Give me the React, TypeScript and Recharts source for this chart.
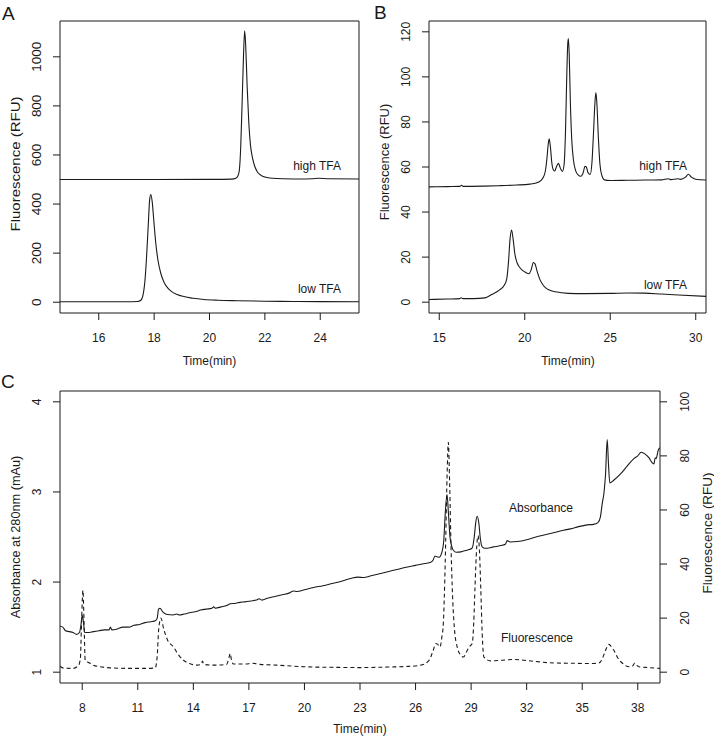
import React from "react";
import { LineChart, Line, XAxis, YAxis, ReferenceArea } from "recharts";

// ---- data (time in min, signal) ----

// Panel A: fluorescence (RFU)
const highTfaA: [number, number][] = [
  [14.6, 500], [16, 500], [18, 500], [20, 500.5], [20.8, 501.5], [20.95, 505], [21.03, 515],
  [21.08, 540], [21.13, 640], [21.18, 820], [21.23, 1010], [21.27, 1106], [21.31, 1040],
  [21.36, 880], [21.42, 730], [21.48, 640], [21.55, 590], [21.63, 555], [21.72, 533],
  [21.85, 518], [22.0, 510], [22.3, 505], [22.7, 503], [23.3, 502], [23.7, 503],
  [23.95, 505], [24.3, 503], [25.4, 502],
];
const lowTfaA: [number, number][] = [
  [14.6, 2], [16, 2], [17.0, 2], [17.4, 3], [17.52, 8], [17.6, 30], [17.67, 90], [17.73, 190],
  [17.79, 320], [17.84, 420], [17.88, 439], [17.93, 410], [17.99, 330], [18.06, 240],
  [18.14, 170], [18.24, 118], [18.37, 78], [18.52, 54], [18.7, 38], [19.0, 25], [19.4, 16],
  [19.8, 11], [20.3, 8], [21, 6], [22, 4], [23, 3], [24, 2.5], [25.4, 2],
];

// Panel B: fluorescence (RFU)
const highTfaB: [number, number][] = [
  [14.4, 51.2], [15.5, 51.3], [16.2, 51.4], [16.3, 51.9], [16.4, 51.4], [17.5, 51.5],
  [18.5, 51.7], [19.5, 52], [20.3, 52.4], [20.8, 53.2], [21.05, 55], [21.2, 58], [21.3, 64],
  [21.37, 70], [21.43, 72.5], [21.5, 69], [21.58, 62], [21.67, 58.8], [21.75, 58.2],
  [21.85, 60], [21.97, 61.6], [22.08, 59.5], [22.2, 58], [22.3, 61], [22.38, 75], [22.45, 98],
  [22.51, 114], [22.55, 117], [22.6, 110], [22.67, 88], [22.75, 72], [22.85, 63],
  [22.97, 58.5], [23.12, 56.5], [23.28, 55.9], [23.42, 57.5], [23.52, 60.3], [23.6, 60],
  [23.7, 57.5], [23.83, 56.7], [23.93, 62], [24.02, 75], [24.1, 88], [24.16, 93],
  [24.22, 88], [24.3, 74], [24.4, 61], [24.52, 56], [24.65, 54.3], [25, 54], [26, 54.1],
  [27, 54.2], [28, 54.3], [28.4, 54.8], [28.55, 54.4], [28.95, 54.8], [29.1, 54.5],
  [29.4, 55.5], [29.57, 56.8], [29.75, 55.5], [30, 54.6], [30.6, 54.2],
];
const lowTfaB: [number, number][] = [
  [14.4, 1.2], [15.5, 1.4], [16.2, 1.6], [16.28, 2.0], [16.38, 1.6], [17.0, 1.6],
  [17.67, 1.9], [18.06, 3.4], [18.55, 5.6], [18.8, 7.5], [18.95, 10.5], [19.05, 18],
  [19.14, 28], [19.23, 32], [19.32, 28], [19.42, 21.5], [19.55, 17.5], [19.7, 15.5],
  [19.85, 14.2], [20.05, 13.2], [20.24, 12.6], [20.38, 14.5], [20.5, 17.6], [20.6, 17],
  [20.72, 13.8], [20.89, 10], [21.1, 7.3], [21.37, 5.6], [21.8, 4.6], [22.54, 3.9],
  [23.5, 3.8], [25, 3.9], [26.05, 4.1], [27, 4.0], [28, 3.6], [29, 3.2], [30.6, 2.6],
];

// Panel C: absorbance at 280nm (mAu), left axis
const absorbanceC: [number, number][] = [
  [6.8, 1.51], [6.95, 1.5], [7.1, 1.46], [7.3, 1.45], [7.5, 1.44], [7.7, 1.42], [7.85, 1.44],
  [7.93, 1.52], [8.0, 1.63], [8.07, 1.55], [8.13, 1.44], [8.3, 1.44], [8.6, 1.45],
  [8.9, 1.46], [9.2, 1.47], [9.45, 1.47], [9.52, 1.5], [9.6, 1.47], [9.9, 1.48], [10.2, 1.5],
  [10.5, 1.5], [10.8, 1.52], [11.1, 1.53], [11.4, 1.55], [11.7, 1.56], [11.95, 1.57],
  [12.05, 1.6], [12.12, 1.7], [12.2, 1.71], [12.35, 1.67], [12.6, 1.64], [12.9, 1.635],
  [13.1, 1.645], [13.25, 1.635], [13.5, 1.645], [13.8, 1.66], [14.1, 1.67], [14.4, 1.69],
  [14.7, 1.7], [15.0, 1.71], [15.1, 1.725], [15.2, 1.71], [15.5, 1.725], [15.8, 1.74],
  [16.0, 1.76], [16.3, 1.765], [16.5, 1.775], [16.8, 1.78], [17.1, 1.79], [17.4, 1.8],
  [17.55, 1.815], [17.7, 1.8], [18.0, 1.82], [18.4, 1.84], [18.8, 1.86], [19.2, 1.88],
  [19.4, 1.9], [19.6, 1.895], [20.0, 1.915], [20.5, 1.94], [21.0, 1.96], [21.5, 1.985],
  [22.0, 2.01], [22.5, 2.04], [22.9, 2.055], [23.2, 2.05], [23.6, 2.07], [24.0, 2.09],
  [24.5, 2.115], [25.0, 2.14], [25.5, 2.165], [26.0, 2.185], [26.5, 2.205], [26.82, 2.22],
  [26.95, 2.245], [27.05, 2.29], [27.15, 2.28], [27.27, 2.276], [27.42, 2.33], [27.52, 2.45],
  [27.6, 2.75], [27.7, 2.97], [27.78, 2.75], [27.86, 2.5], [27.95, 2.4], [28.05, 2.35],
  [28.2, 2.33], [28.45, 2.335], [28.7, 2.35], [28.9, 2.36], [29.06, 2.38], [29.17, 2.5],
  [29.25, 2.66], [29.33, 2.73], [29.42, 2.65], [29.5, 2.48], [29.6, 2.39], [29.75, 2.375],
  [29.87, 2.376], [30.2, 2.39], [30.6, 2.405], [30.85, 2.42], [30.95, 2.46], [31.1, 2.445],
  [31.5, 2.45], [32.0, 2.47], [32.5, 2.5], [33.0, 2.525], [33.5, 2.55], [34.0, 2.575],
  [34.37, 2.59], [34.8, 2.615], [35.27, 2.635], [35.6, 2.64], [35.85, 2.66], [35.98, 2.72],
  [36.08, 2.87], [36.18, 3.0], [36.26, 3.2], [36.35, 3.58], [36.42, 3.3], [36.49, 3.1],
  [36.7, 3.13], [37.07, 3.2], [37.4, 3.28], [37.79, 3.37], [38.0, 3.4], [38.18, 3.44],
  [38.4, 3.42], [38.6, 3.38], [38.75, 3.33], [38.87, 3.31], [38.94, 3.38], [38.99, 3.37],
  [39.1, 3.46], [39.2, 3.49],
];

// Panel C: fluorescence (RFU), right axis
const fluorescenceC: [number, number][] = [
  [6.8, 2.2], [7.0, 1.5], [7.5, 1.4], [7.8, 2.5], [7.9, 5], [7.97, 20], [8.04, 30.3],
  [8.1, 18], [8.16, 4.4], [8.34, 3.6], [8.6, 2.6], [8.97, 2.0], [9.5, 1.6], [10.5, 1.4],
  [11.5, 1.4], [11.94, 1.6], [12.05, 6], [12.13, 16], [12.25, 20], [12.4, 16], [12.6, 12],
  [12.93, 9.3], [13.2, 6.4], [13.47, 4.4], [13.8, 3.2], [14.19, 2.6], [14.42, 2.9],
  [14.49, 4.1], [14.56, 2.9], [15.09, 2.6], [15.8, 2.9], [15.93, 5.5], [15.99, 6.9],
  [16.06, 4.5], [16.17, 3.0], [16.8, 3.0], [17.2, 3.3], [17.6, 2.9], [18.5, 2.6], [20, 2.0],
  [21.5, 1.8], [23, 1.7], [24.5, 1.9], [25.5, 2.1], [26.28, 2.6], [26.73, 4.4], [26.95, 8],
  [27.09, 10.6], [27.2, 10.3], [27.32, 9.3], [27.42, 13], [27.5, 18], [27.6, 40], [27.7, 72],
  [27.77, 85], [27.84, 70], [27.92, 45], [27.98, 31.5], [28.1, 16], [28.25, 9.3],
  [28.4, 6.6], [28.58, 5.6], [28.75, 7.5], [28.89, 9.3], [29.06, 10.6], [29.14, 18],
  [29.21, 31.5], [29.3, 46], [29.37, 50.5], [29.45, 45], [29.52, 31.5], [29.6, 14],
  [29.69, 5.6], [30.05, 4.2], [30.6, 4.4], [31.31, 4.7], [32.4, 4.0], [33.47, 3.4],
  [34.5, 3.3], [35.5, 3.2], [35.9, 3.4], [36.05, 4.5], [36.21, 7.2], [36.44, 10.3],
  [36.6, 9.2], [36.71, 8.1], [36.9, 5.5], [37.16, 3.4], [37.52, 2.0], [37.72, 2.3],
  [37.84, 3.4], [37.95, 2.5], [38.06, 2.0], [38.6, 1.7], [39.2, 1.4],
];

// axis ticks
const ticksAx = [16, 18, 20, 22, 24];
const ticksAy = [0, 200, 400, 600, 800, 1000];
const ticksBx = [15, 20, 25, 30];
const ticksBy = [0, 20, 40, 60, 80, 100, 120];
const ticksCx = [8, 11, 14, 17, 20, 23, 26, 29, 32, 35, 38];
const ticksCabs = [1, 2, 3, 4];
const ticksCfl = [0, 20, 40, 60, 80, 100];

const toPts = (arr: [number, number][]) => arr.map(([t, v]) => ({ t, v }));

const INK = "#1a1a1a";
const FONT = "'Liberation Sans', Arial, Helvetica, sans-serif";
const FS = 12;

// rotated text, optionally stretched along its own direction
const rot = (x: number, y: number, k: number) =>
  `rotate(-90 ${x} ${y}) translate(${x} ${y}) scale(${k} 1) translate(${-x} ${-y})`;

// R-style tick labels: parallel to the axis
const leftTick = (k: number) => (props: any) => {
  const { x, y, payload } = props;
  const bx = x - 11.7;
  return (
    <text x={bx} y={y} transform={rot(bx, y, k)} textAnchor="middle" fontSize={FS} fill={INK}>
      {payload.value}
    </text>
  );
};
const rightTick = (props: any) => {
  const { x, y, payload } = props;
  const bx = x + 22;
  return (
    <text x={bx} y={y} transform={rot(bx, y, 1)} textAnchor="middle" fontSize={FS} fill={INK}>
      {payload.value}
    </text>
  );
};
const bottomTick = (props: any) => {
  const { x, y, payload } = props;
  return (
    <text x={x} y={y + 21.5} textAnchor="middle" fontSize={FS} fill={INK}>
      {payload.value}
    </text>
  );
};

const axisCommon = {
  type: "number" as const,
  allowDataOverflow: true,
  axisLine: false,
  tickSize: 7,
  tickMargin: 0,
  tickLine: { stroke: INK },
  interval: 0 as const,
};

const lineCommon = {
  dataKey: "v",
  type: "monotone" as const,
  stroke: INK,
  strokeWidth: 1.1,
  dot: false,
  isAnimationActive: false,
};

function PanelA() {
  return (
    <LineChart width={362} height={370} margin={{ top: 21, right: 3, left: 0, bottom: 0 }}>
      <XAxis {...axisCommon} dataKey="t" domain={[14.6, 25.4]} ticks={ticksAx} height={57} tick={bottomTick} />
      <YAxis {...axisCommon} domain={[-44, 1146]} ticks={ticksAy} width={60} tick={leftTick(1.12)} />
      <ReferenceArea x1={14.6} x2={25.4} y1={-44} y2={1146} fill="none" stroke={INK} strokeWidth={1} />
      <Line {...lineCommon} data={toPts(highTfaA)} />
      <Line {...lineCommon} data={toPts(lowTfaA)} />
    </LineChart>
  );
}

function PanelB() {
  return (
    <LineChart width={360} height={370} margin={{ top: 21, right: 8, left: 0, bottom: 0 }}>
      <XAxis {...axisCommon} dataKey="t" domain={[14.4, 30.6]} ticks={ticksBx} height={57} tick={bottomTick} />
      <YAxis {...axisCommon} domain={[-4.8, 124.8]} ticks={ticksBy} width={75} tick={leftTick(1)} />
      <ReferenceArea x1={14.4} x2={30.6} y1={-4.8} y2={124.8} fill="none" stroke={INK} strokeWidth={1} />
      <Line {...lineCommon} data={toPts(highTfaB)} />
      <Line {...lineCommon} data={toPts(lowTfaB)} />
    </LineChart>
  );
}

function PanelC() {
  return (
    <LineChart width={714} height={367} margin={{ top: 21, right: 0, left: 0, bottom: 0 }}>
      <XAxis {...axisCommon} dataKey="t" domain={[6.8, 39.2]} ticks={ticksCx} height={54} tick={bottomTick} />
      <YAxis {...axisCommon} yAxisId="abs" orientation="left" domain={[0.88, 4.12]} ticks={ticksCabs} width={60} tick={leftTick(1)} />
      <YAxis {...axisCommon} yAxisId="fl" orientation="right" domain={[-4, 104]} ticks={ticksCfl} width={54} tick={rightTick} />
      <ReferenceArea yAxisId="abs" x1={6.8} x2={39.2} y1={0.88} y2={4.12} fill="none" stroke={INK} strokeWidth={1} />
      <Line {...lineCommon} yAxisId="fl" data={toPts(fluorescenceC)} strokeDasharray="4 3" />
      <Line {...lineCommon} yAxisId="abs" data={toPts(absorbanceC)} />
    </LineChart>
  );
}

const vText = (x: number, y: number, s: string, k: number) => (
  <text x={x} y={y} transform={rot(x, y, k)} textAnchor="middle" fontSize={FS}>
    {s}
  </text>
);

export default function App() {
  return (
    <div style={{ position: "absolute", left: 0, top: 0, width: 714, height: 737, background: "#fff", fontFamily: FONT, color: INK }}>
      <div style={{ position: "absolute", left: 0, top: 0 }}>
        <PanelA />
      </div>
      <div style={{ position: "absolute", left: 354, top: 0 }}>
        <PanelB />
      </div>
      <div style={{ position: "absolute", left: 0, top: 370 }}>
        <PanelC />
      </div>
      <svg width={714} height={737} style={{ position: "absolute", left: 0, top: 0, pointerEvents: "none" }} fill={INK} fontFamily={FONT}>
        {/* panel letters */}
        <text x={2} y={20} fontSize={19}>A</text>
        <text x={374} y={19} fontSize={19}>B</text>
        <text x={1} y={388} fontSize={19}>C</text>

        {/* axis titles */}
        {vText(20.5, 164, "Fluorescence (RFU)", 1.25)}
        {vText(389, 162, "Fluorescence (RFU)", 1.08)}
        {vText(20, 537, "Absorbance at 280nm (mAu)", 1.06)}
        {vText(712, 533, "Fluorescence (RFU)", 1.12)}
        <text x={209.5} y={365} textAnchor="middle" fontSize={FS}>Time(min)</text>
        <text x={568} y={365} textAnchor="middle" fontSize={FS}>Time(min)</text>
        <text x={360} y={733} textAnchor="middle" fontSize={FS}>Time(min)</text>

        {/* trace annotations */}
        <text x={341} y={170} textAnchor="end" fontSize={FS}>high TFA</text>
        <text x={341} y={293} textAnchor="end" fontSize={FS}>low TFA</text>
        <text x={687} y={170} textAnchor="end" fontSize={FS}>high TFA</text>
        <text x={687} y={289} textAnchor="end" fontSize={FS}>low TFA</text>
        <text x={541} y={512} textAnchor="middle" fontSize={FS}>Absorbance</text>
        <text x={537} y={642} textAnchor="middle" fontSize={FS}>Fluorescence</text>
      </svg>
    </div>
  );
}
